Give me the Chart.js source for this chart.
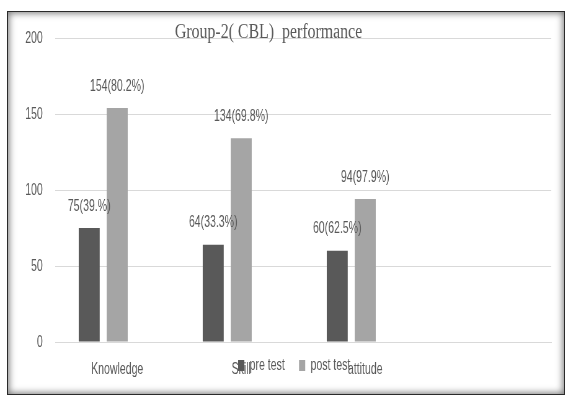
<!DOCTYPE html>
<html>
<head>
<meta charset="utf-8">
<title>Group-2( CBL) performance</title>
<script src="https://cdn.jsdelivr.net/npm/chart.js@4/dist/chart.umd.min.js"></script>
<style>
  html, body { margin: 0; padding: 0; background: #fff; overflow: hidden; width: 568px; height: 396px; }
  /* chart is laid out wide, then narrowed to give its condensed lettering */
  #wrap { position: absolute; left: 0; top: 0; width: 916px; height: 396px;
          transform: scaleX(0.620087); transform-origin: 0 0; }
  #frame { position: absolute; left: 7px; top: 11px; width: 556px; height: 382px;
           border: 1px solid #2a2a2a; box-shadow: inset 0 0 7px 1px rgba(0,0,0,0.55);
           pointer-events: none; }
</style>
</head>
<body>
<div id="wrap"><canvas id="chart" width="916" height="396"></canvas></div>
<div id="frame"></div>
<script>
const chartTitle = 'Group-2( CBL)  performance';
const categories = ['Knowledge', 'Skill', 'attitude', ''];
const seriesNames = ['pre test', 'post test'];
const preTest = [75, 64, 60];
const postTest = [154, 134, 94];
const prePercent = ['39.%', '33.3%', '62.5%'];
const postPercent = ['80.2%', '69.8%', '97.9%'];
const yTicks = [0, 50, 100, 150, 200];

const TEXT = '#595959';
const GRID = '#d9d9d9';
const LEGEND_PAD = 23;

Chart.defaults.font.family = '"Liberation Sans", Arial, sans-serif';
Chart.defaults.font.size = 17;
Chart.defaults.color = TEXT;

// "75(39.%)" style labels above each bar
const valueLabels = {
  id: 'valueLabels',
  afterDatasetsDraw(chart) {
    const ctx = chart.ctx;
    const sets = [[preTest, prePercent], [postTest, postPercent]];
    ctx.save();
    ctx.font = '17px "Liberation Sans", Arial, sans-serif';
    ctx.fillStyle = TEXT;
    ctx.textAlign = 'center';
    ctx.textBaseline = 'middle';
    sets.forEach(([vals, pcts], di) => {
      chart.getDatasetMeta(di).data.forEach((bar, i) => {
        ctx.fillText(vals[i] + '(' + pcts[i] + ')', bar.x, bar.y - 22);
      });
    });
    ctx.restore();
  }
};

// serif title sitting on the top gridline
const serifTitle = {
  id: 'serifTitle',
  afterDraw(chart) {
    const ctx = chart.ctx;
    ctx.save();
    ctx.font = '20px "Liberation Serif", "Times New Roman", serif';
    ctx.fillStyle = TEXT;
    ctx.textAlign = 'center';
    ctx.textBaseline = 'alphabetic';
    ctx.translate(433, 38);
    ctx.scale(1.28, 1);
    ctx.fillText(chartTitle, 0, 0);
    ctx.restore();
  }
};

// the legend sits on the same line as the category names
const legendOverAxis = {
  id: 'legendOverAxis',
  afterLayout(chart) {
    const lg = chart.legend;
    const h = lg.height;
    const w = lg.right - lg.left;
    lg.top = chart.chartArea.bottom + 15 - LEGEND_PAD;
    lg.bottom = lg.top + h;
    lg.left += 30;
    lg.right = lg.left + w;
  }
};

new Chart(document.getElementById('chart'), {
  type: 'bar',
  data: {
    labels: categories,
    datasets: [
      { label: seriesNames[0], data: preTest, backgroundColor: '#595959' },
      { label: seriesNames[1], data: postTest, backgroundColor: '#a5a5a5' },
      // empty slot to the right of each pair
      { label: '', data: [], backgroundColor: 'rgba(0,0,0,0)' }
    ]
  },
  options: {
    responsive: false,
    animation: false,
    devicePixelRatio: 1,
    categoryPercentage: 0.677,
    barPercentage: 0.75,
    layout: { padding: { left: 0, right: 27, top: 38, bottom: -34 } },
    scales: {
      x: {
        grid: { display: false, drawTicks: false },
        border: { display: true, color: GRID, width: 1 },
        ticks: { padding: 17, maxRotation: 0, autoSkip: false, color: TEXT },
        afterFit(scale) { scale.height = 38; }
      },
      y: {
        min: 0,
        max: 200,
        grid: { color: GRID, drawTicks: false },
        border: { display: false },
        ticks: { padding: 20, color: TEXT },
        afterBuildTicks(scale) { scale.ticks = yTicks.map(v => ({ value: v })); },
        afterFit(scale) { scale.width = 89; }
      }
    },
    plugins: {
      title: { display: false },
      tooltip: { enabled: false },
      legend: {
        position: 'bottom',
        labels: {
          boxWidth: 10,
          boxHeight: 11,
          padding: LEGEND_PAD,
          color: TEXT,
          font: { size: 17 },
          filter: item => item.text !== ''
        }
      }
    }
  },
  plugins: [valueLabels, serifTitle, legendOverAxis]
});
</script>
</body>
</html>
